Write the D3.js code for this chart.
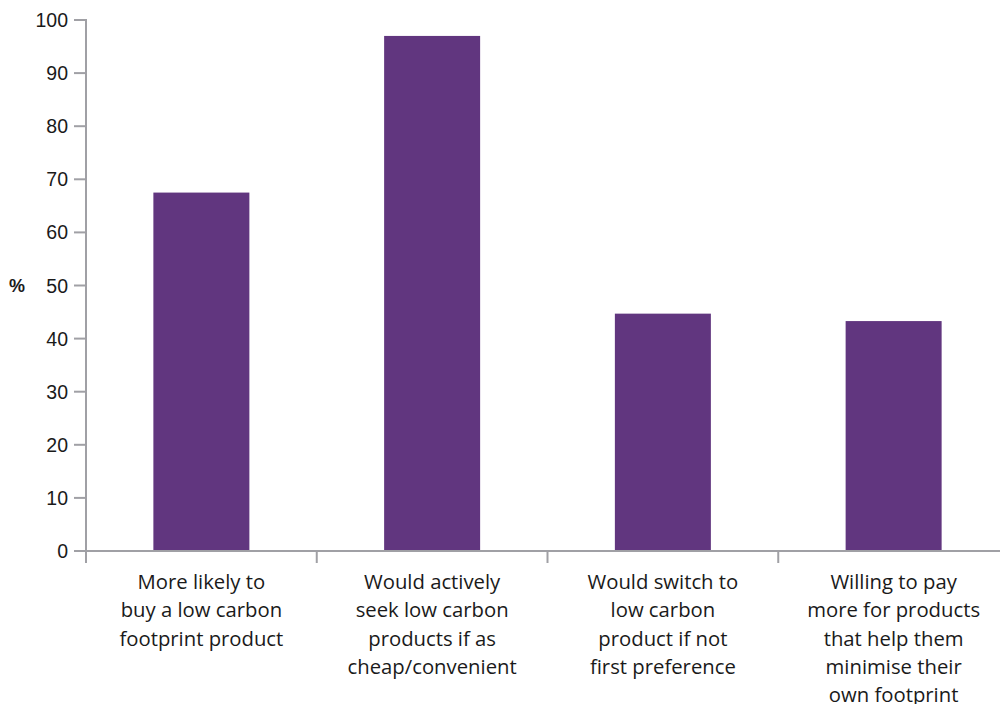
<!DOCTYPE html>
<html><head><meta charset="utf-8">
<script src="https://cdn.jsdelivr.net/npm/d3@7"></script>
<style>body{margin:0;background:#fff}svg{display:block}</style>
</head><body>
<svg id="c" width="1000" height="704"></svg>
<script>
const categories = ["More likely to|buy a low carbon|footprint product",
  "Would actively|seek low carbon|products if as|cheap/convenient",
  "Would switch to|low carbon|product if not|first preference",
  "Willing to pay|more for products|that help them|minimise their|own footprint"];
const values = [67.5, 97, 44.7, 43.3];
const yTicks = [0,10,20,30,40,50,60,70,80,90,100];
const yLabel = "%";

const svg = d3.select("#c");
const font = "'Liberation Sans', Arial, sans-serif";
const catFont = "'Open Sans', 'Liberation Sans', sans-serif";
const axisColor = "#a0a0a5";
const x = d3.scaleBand().domain(categories).range([86, 1009]).paddingInner(0).paddingOuter(0);
const y = d3.scaleLinear().domain([0,100]).range([551, 20]);
const barW = 96;

svg.selectAll("rect.bar").data(values).join("rect")
  .attr("class","bar")
  .attr("x",(d,i)=>x(categories[i]) + x.bandwidth()/2 - barW/2)
  .attr("width",barW)
  .attr("y",d=>y(d))
  .attr("height",d=>y(0)-y(d))
  .attr("fill","#61367f");

// y axis
const ya = svg.append("g");
ya.append("line").attr("x1",86).attr("x2",86).attr("y1",y(100)-1).attr("y2",563)
  .attr("stroke",axisColor).attr("stroke-width",2);
yTicks.forEach(t=>{
  ya.append("line").attr("x1",74).attr("x2",86).attr("y1",y(t)).attr("y2",y(t))
    .attr("stroke",axisColor).attr("stroke-width",2);
  ya.append("text").attr("x",68).attr("y",y(t)).attr("dy","0.36em")
    .attr("text-anchor","end").attr("font-family",font).attr("font-size",19.5)
    .attr("fill","#1a1a1a").text(t);
});
svg.append("text").attr("x",17).attr("y",y(50)).attr("dy","0.36em")
  .attr("text-anchor","middle").attr("font-family",font).attr("font-size",18)
  .attr("font-weight","bold").attr("fill","#1a1a1a").text(yLabel);

// x axis
const xa = svg.append("g");
xa.append("line").attr("x1",85).attr("x2",1000).attr("y1",y(0)).attr("y2",y(0))
  .attr("stroke",axisColor).attr("stroke-width",2);
categories.forEach((c,i)=>{
  if(i>0){
    const xx = x(c);
    xa.append("line").attr("x1",xx).attr("x2",xx).attr("y1",y(0)).attr("y2",563)
      .attr("stroke",axisColor).attr("stroke-width",2);
  }
  const cx = x(c)+x.bandwidth()/2;
  const t = xa.append("text").attr("text-anchor","middle").attr("font-family",catFont)
    .attr("font-size",20.3).attr("fill","#1a1a1a");
  c.split("|").forEach((ln,j)=>{
    t.append("tspan").attr("x",cx).attr("y",589 + j*28.3).text(ln);
  });
});
</script>
</body></html>
